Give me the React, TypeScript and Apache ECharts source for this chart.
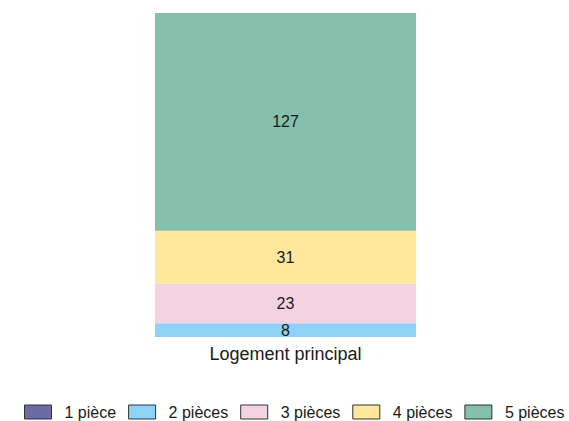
import React, { useEffect, useRef } from "react";
import * as echarts from "echarts";

const categories = ["Logement principal"];
const seriesNames = ["1 pièce", "2 pièces", "3 pièces", "4 pièces", "5 pièces"];
const seriesValues = [[0], [8], [23], [31], [127]];
const colors = ["#6b6ca6", "#8ed3f4", "#f3d3e1", "#ffe79c", "#86bfab"];

const FONT = "'Liberation Sans', Arial, sans-serif";

export default function App() {
  const ref = useRef<HTMLDivElement>(null);
  useEffect(() => {
    if (!ref.current) return;
    const chart = echarts.init(ref.current, undefined, { renderer: "svg" });
    chart.setOption({
      animation: false,
      textStyle: { fontFamily: FONT },
      grid: { left: 25, right: 23, top: 13, bottom: 84 },
      xAxis: {
        type: "category",
        data: categories,
        axisLine: { show: false },
        axisTick: { show: false },
        axisLabel: { fontSize: 18, color: "#1a1a1a", margin: 8, fontFamily: FONT },
      },
      yAxis: {
        type: "value",
        min: 0,
        max: 189,
        show: false,
        splitLine: { show: false },
      },
      legend: {
        left: 24,
        top: 404,
        width: 700,
        padding: 0,
        icon: "rect",
        itemWidth: 27,
        itemHeight: 14,
        itemGap: 12,
        data: seriesNames,
        textStyle: { fontSize: 16, color: "#1a1a1a", padding: [0, 0, 0, 8], fontFamily: FONT },
        itemStyle: { borderColor: "#333", borderWidth: 1 },
      },
      series: seriesNames.map((name, i) => ({
        name,
        type: "bar",
        stack: "total",
        barWidth: 261,
        data: seriesValues[i],
        itemStyle: { color: colors[i] },
        label: {
          show: true,
          position: "inside",
          fontSize: 16,
          color: "#1a1a1a",
          fontFamily: FONT,
          formatter: (p: any) => (p.value === 0 ? "" : String(p.value)),
        },
      })),
    });
    return () => chart.dispose();
  }, []);
  return <div ref={ref} style={{ width: 569, height: 421, position: "absolute", left: 0, top: 0 }} />;
}
